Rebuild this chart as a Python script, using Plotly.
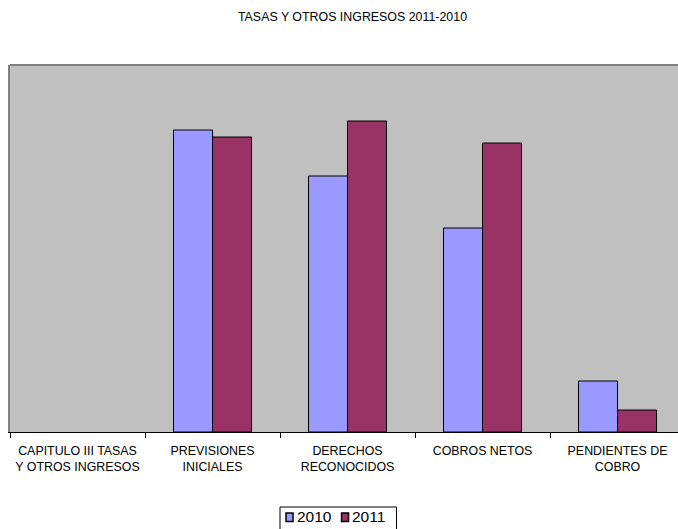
import plotly.graph_objects as go

# categories and values
categorias = [
    "CAPITULO III TASAS<br>Y OTROS INGRESOS",
    "PREVISIONES<br>INICIALES",
    "DERECHOS<br>RECONOCIDOS",
    "COBROS NETOS",
    "PENDIENTES DE<br>COBRO",
]
series = ["2010", "2011"]
colores = ["#9999FF", "#993366"]
valores_2010 = [None, 302, 256, 204, 51]
valores_2011 = [None, 295, 311, 289, 22]

fig = go.Figure()
for nombre, vals, col in zip(series, [valores_2010, valores_2011], colores):
    fig.add_trace(go.Bar(
        x=categorias, y=vals, name=nombre, showlegend=False,
        marker=dict(color=col, line=dict(color="black", width=1)),
    ))

fig.update_layout(
    width=678, height=529,
    margin=dict(l=10, r=0, t=65, b=97),
    paper_bgcolor="white",
    plot_bgcolor="#C0C0C0",
    font=dict(family="Liberation Sans, Arial", size=12.4, color="#000000"),
    title=dict(text="TASAS Y OTROS INGRESOS 2011-2010", x=352.5 / 678, xanchor="center",
               y=1 - 17 / 529, yanchor="middle", font=dict(size=12.4)),
    barmode="group", bargap=0.422, bargroupgap=0,
)
fig.update_xaxes(
    range=[-0.5, 4.448], showline=True, linecolor="black", linewidth=1,
    ticks="outside", tickson="boundaries", ticklen=5, tickcolor="black",
    ticklabelstandoff=7, showgrid=False,
)
fig.update_yaxes(
    range=[0, 367], showticklabels=False, showgrid=False, zeroline=False,
    showline=True, linecolor="#808080", linewidth=2,
)
# grey top border of plot area
fig.add_shape(type="line", xref="paper", yref="paper", x0=0, x1=1, y0=1, y1=1,
              line=dict(color="#808080", width=2))

# legend drawn by hand (small boxed legend like the original)
fig.add_shape(type="rect", xref="paper", yref="paper",
              x0=0.4042, x1=0.5786, y0=-0.2044, y1=-0.27,
              line=dict(color="black", width=1), fillcolor="white")
leg_x = [0.4132, 0.4963]
for nombre, col, x0 in zip(series, colores, leg_x):
    fig.add_shape(type="rect", xref="paper", yref="paper",
                  x0=x0, x1=x0 + 0.0105, y0=-0.2207, y1=-0.2439,
                  line=dict(color="black", width=1.5), fillcolor=col)
    fig.add_annotation(text=nombre, xref="paper", yref="paper",
                       x=x0 + 0.0134, y=-0.2316, xanchor="left", yanchor="middle",
                       showarrow=False, font=dict(size=15.5))

fig.write_html("out.html", config={"displayModeBar": False},
               post_script="document.body.style.margin='0';document.body.style.overflow='hidden';")
